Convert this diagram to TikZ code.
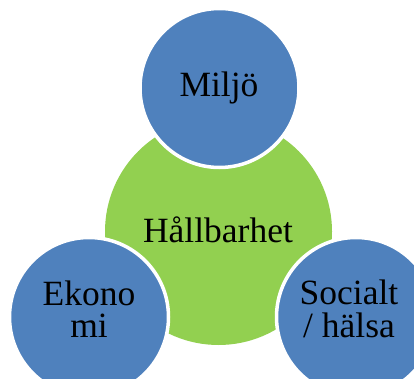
\documentclass[tikz,border=0pt]{standalone}
\usepackage{fontspec}
\setmainfont{Liberation Serif}
\definecolor{bluefill}{HTML}{4F81BD}
\definecolor{greenfill}{HTML}{92D050}
\tikzset{
  hub/.style={circle, fill=greenfill, inner sep=0pt, minimum size=227pt},
  sat/.style={circle, fill=bluefill, draw=white, line width=3.5pt, inner sep=0pt, minimum size=159pt},
  lbl/.style={font=\fontsize{35.5}{32}\selectfont, text=black, inner sep=0pt},
}
\begin{document}
\begin{tikzpicture}[x=1pt,y=-1pt]
\useasboundingbox (0,0) rectangle (414,379);
\fill[white] (0,0) rectangle (414,379);
\node[hub] (h) at (218.5,231.5) {};
\node[sat] (m) at (219.5,88) {};
\node[sat] (e) at (89,317) {};
\node[sat] (s) at (356,317) {};
\node[lbl, anchor=base] (ht) at (218,242) {Hållbarhet};
\node[lbl, anchor=base] (mt) at (219,97) {Miljö};
\node[lbl, anchor=base] (et1) at (89,305) {Ekono};
\node[lbl, anchor=base] (et2) at (89,337) {mi};
\node[lbl, anchor=base] (st1) at (349,304) {Socialt};
\node[lbl, anchor=base] (st2) at (349,337) {/ hälsa};
\end{tikzpicture}
\end{document}
